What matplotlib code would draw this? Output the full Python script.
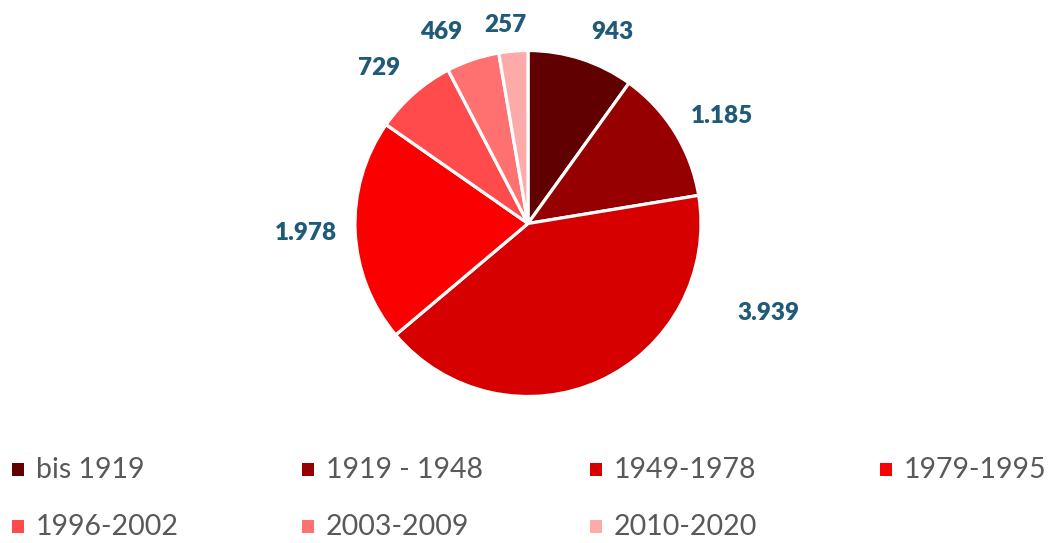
import matplotlib.pyplot as plt
from matplotlib.patches import Rectangle

# data
periods = ['bis 1919', '1919 - 1948', '1949-1978', '1979-1995',
           '1996-2002', '2003-2009', '2010-2020']
counts = [943, 1185, 3939, 1978, 729, 469, 257]
colors = ['#600000', '#960000', '#d60000', '#fa0000',
          '#ff4b4b', '#ff7070', '#ffaaaa']

# label centres (in pie-radius units), Excel "best fit" style
label_xy = [(0.486, 1.107), (1.121, 0.621), (1.387, -0.517), (-1.283, -0.055),
            (-0.861, 0.899), (-0.503, 1.107), (-0.133, 1.147)]

W, H = 1057, 543
R = 173.0          # pie radius in px
cx, cy = 528, 223.5  # pie centre in px (from top)

fig = plt.figure(figsize=(W / 100, H / 100), dpi=100)
ax = fig.add_axes([0, 0, 1, 1])

wedges, _ = ax.pie(counts, colors=colors, startangle=90, counterclock=False,
                   wedgeprops=dict(edgecolor='white', linewidth=2.3))

def fmt(v):
    return f'{v:,}'.replace(',', '.')

for v, (lx, ly) in zip(counts, label_xy):
    ax.text(lx, ly, fmt(v), ha='center', va='center', fontsize=17.5,
            fontweight='heavy', color='#1f5b79', family='Lato')

ax.set_aspect('auto')
ax.set_xlim(-cx / R, (W - cx) / R)
ax.set_ylim(-(H - cy) / R, cy / R)
ax.axis('off')

# legend, drawn by hand to match the even column spacing
col_x = [12, 302, 590, 880]
row_y = [470, 527]
for i, (name, c) in enumerate(zip(periods, colors)):
    r, k = divmod(i, 4)
    x, y = col_x[k], row_y[r]
    fig.add_artist(Rectangle((x / W, 1 - (y + 6) / H), 12 / W, 13 / H,
                             transform=fig.transFigure, facecolor=c, edgecolor='none'))
    fig.text((x + 24) / W, 1 - y / H, name, ha='left', va='center',
             fontsize=20.5, color='#595959', family='Lato')

fig.savefig('out.png', dpi=100)
